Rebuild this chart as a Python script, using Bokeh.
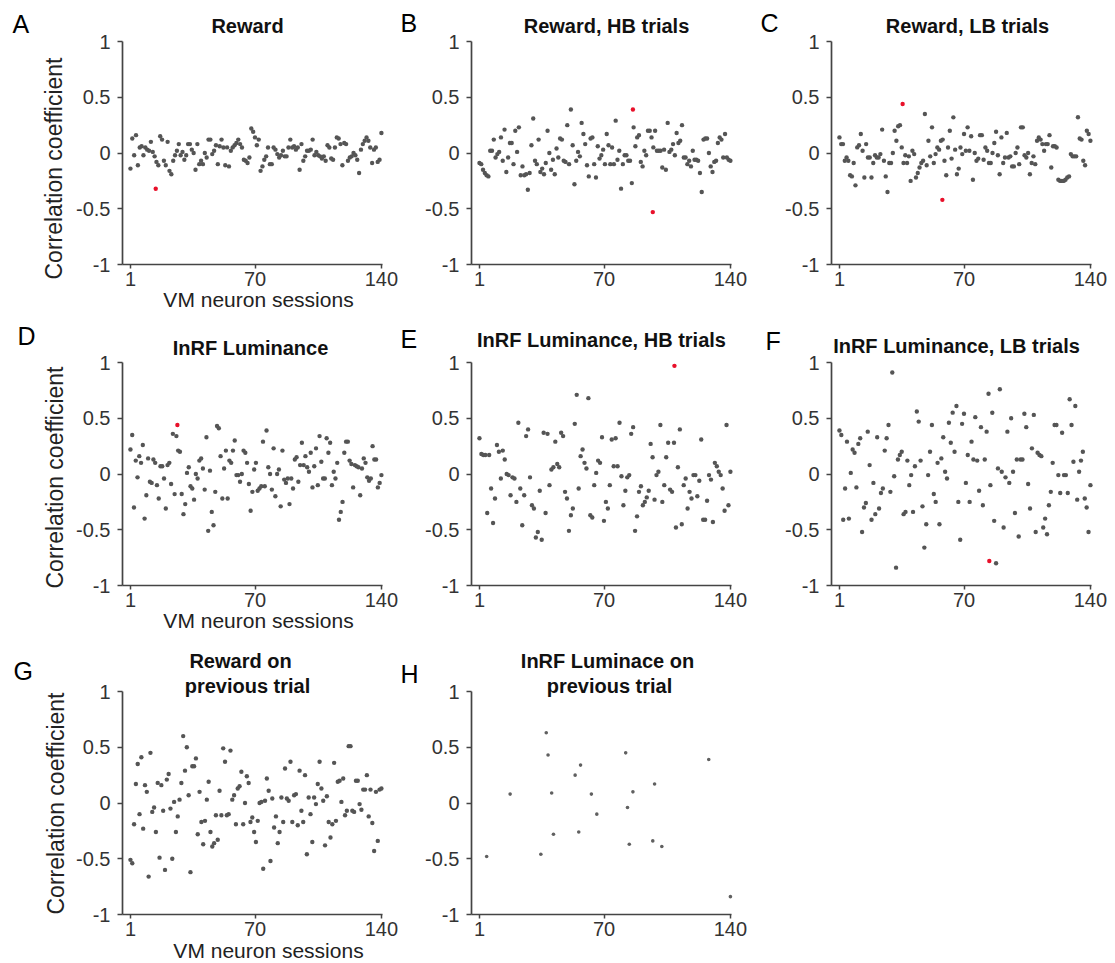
import math
import numpy as np
from bokeh.plotting import figure
from bokeh.layouts import column, row
from bokeh.models import Range1d, Label, FixedTicker, LinearAxis
from bokeh.embed import file_html
from bokeh.resources import INLINE

# ---------------- data ----------------
x_ticks = [1, 70, 140]
y_ticks = [-1, -0.5, 0, 0.5, 1]
y_tick_labels = {-1: "-1", -0.5: "-0.5", 0: "0", 0.5: "0.5", 1: "1"}
first_session = 1
last_session = 140
x_axis_label = "VM neuron sessions"
y_axis_label = "Correlation coefficient"

a_title = ["Reward"]
a_gray = [-0.14, 0.13, -0.02, 0.16, -0.11, 0.05, 0.06, -0.02, 0.05, 0.03,
          0.02, 0.10, 0.01, -0.03, -0.08, -0.11, 0.15, 0.12, -0.07, -0.11,
          0.10, -0.16, -0.19, -0.07, -0.02, 0.02, 0.08, -0.02, 0.01, -0.06,
          -0.02, 0.08, 0.08, 0.03, 0.00, -0.15, 0.08, -0.10, -0.07, -0.10,
          0.00, -0.04, 0.12, 0.12, -0.01, 0.02, 0.07, -0.10, 0.06, 0.12,
          0.05, -0.11, 0.05, -0.12, 0.02, 0.05, 0.07, 0.09, 0.12, 0.08,
          0.05, -0.06, -0.07, -0.09, -0.04, 0.22, 0.19, 0.14, 0.07, 0.12,
          -0.16, -0.12, -0.06, -0.03, 0.05, -0.10, -0.10, 0.05, 0.03, -0.01,
          -0.04, -0.02, 0.02, -0.03, -0.03, 0.05, 0.12, 0.05, 0.06, 0.03,
          0.05, -0.15, 0.08, -0.07, -0.03, 0.02, 0.02, 0.03, 0.12, -0.02,
          0.01, -0.02, -0.03, -0.05, -0.03, -0.07, 0.07, 0.05, -0.05, -0.06,
          0.05, 0.14, 0.13, 0.08, -0.11, 0.09, 0.08, -0.07, -0.04, -0.03,
          0.00, -0.02, -0.06, -0.18, 0.03, 0.08, 0.11, 0.14, 0.11, 0.05,
          -0.09, 0.03, 0.05, -0.08, -0.06, 0.18]
a_red_x = [15]
a_red_y = [-0.32]

b_title = ["Reward, HB trials"]
b_gray = [-0.09, -0.10, -0.15, -0.18, -0.20, -0.21, 0.02, 0.02, 0.12, -0.04,
          -0.01, 0.01, 0.14, -0.07, 0.21, -0.17, -0.04, 0.09, 0.09, -0.10,
          0.20, 0.01, 0.23, -0.20, -0.12, -0.20, -0.19, -0.33, -0.18, 0.07,
          0.31, -0.07, -0.10, 0.12, -0.17, -0.14, -0.19, -0.09, 0.20, 0.00,
          -0.15, -0.06, -0.19, 0.04, -0.04, 0.13, 0.12, -0.07, -0.08, 0.25,
          -0.10, 0.39, 0.07, -0.28, -0.07, 0.01, -0.03, 0.27, 0.17, 0.08,
          -0.11, -0.21, 0.13, 0.14, -0.10, -0.22, 0.06, -0.05, -0.02, 0.03,
          -0.10, 0.17, 0.07, -0.10, 0.05, -0.10, 0.29, -0.06, 0.02, -0.32,
          -0.10, -0.02, -0.02, -0.07, -0.07, -0.27, 0.23, 0.06, 0.14, 0.16,
          -0.08, -0.12, 0.02, -0.02, 0.20, 0.20, 0.14, 0.05, 0.20, 0.02,
          0.02, 0.02, -0.13, 0.03, -0.15, 0.27, 0.01, 0.03, 0.08, -0.02,
          0.18, 0.09, 0.11, 0.25, -0.04, -0.04, -0.10, -0.07, -0.12, 0.02,
          -0.06, -0.06, -0.07, -0.18, -0.35, 0.12, 0.13, 0.13, 0.00, -0.12,
          -0.17, -0.08, -0.07, 0.09, 0.14, 0.12, -0.04, 0.17, -0.04, -0.06,
          -0.07]
b_red_x = [86, 97]
b_red_y = [0.39, -0.53]

c_title = ["Reward, LB trials"]
c_gray = [0.14, 0.08, 0.08, -0.07, -0.04, -0.07, -0.20, -0.21, -0.09, -0.29,
          0.05, 0.07, 0.17, 0.02, -0.22, 0.08, -0.04, -0.04, -0.22, -0.09,
          -0.02, -0.04, -0.04, -0.01, 0.21, -0.07, -0.21, -0.35, -0.09, -0.09,
          0.00, 0.20, 0.11, 0.24, 0.25, 0.05, -0.09, -0.02, -0.09, -0.03,
          -0.25, 0.02, -0.01, -0.22, -0.18, -0.13, -0.09, -0.07, 0.35, -0.11,
          0.11, -0.03, 0.23, -0.09, -0.01, 0.05, 0.03, 0.11, 0.12, -0.07,
          -0.20, 0.05, 0.20, -0.05, 0.32, 0.03, -0.19, -0.14, 0.05, -0.01,
          0.17, 0.02, 0.23, 0.02, 0.15, -0.24, 0.00, -0.07, -0.05, 0.16,
          0.16, -0.06, 0.05, 0.02, -0.09, -0.09, 0.00, 0.09, 0.19, -0.02,
          -0.19, 0.14, -0.09, -0.04, 0.18, -0.04, -0.03, -0.12, -0.12, 0.00,
          0.05, -0.10, 0.23, 0.23, -0.02, -0.04, 0.00, -0.19, -0.09, -0.03,
          -0.10, 0.11, 0.14, 0.12, 0.08, 0.02, 0.08, 0.08, 0.16, -0.13,
          0.06, 0.06, 0.05, -0.24, -0.25, -0.25, -0.25, -0.24, -0.22, -0.21,
          -0.01, -0.03, -0.03, -0.03, 0.32, 0.13, 0.12, -0.07, -0.11, 0.20,
          0.17, 0.11]
c_red_x = [36, 58]
c_red_y = [0.44, -0.42]

d_title = ["InRF Luminance"]
d_gray = [0.22, 0.35, -0.30, 0.12, -0.03, 0.16, 0.10, 0.26, -0.40, -0.19,
          0.14, -0.07, -0.08, 0.13, 0.10, -0.10, -0.22, 0.07, 0.07, -0.04,
          -0.31, 0.08, 0.10, -0.09, 0.36, -0.18, 0.34, 0.21, 0.20, -0.18,
          -0.36, -0.27, 0.01, 0.06, -0.11, -0.13, -0.23, 0.00, -0.04, 0.12,
          0.14, 0.05, -0.14, 0.33, -0.51, 0.03, -0.34, -0.46, -0.16, 0.43,
          0.41, 0.16, -0.22, 0.05, 0.21, -0.22, 0.12, 0.10, 0.21, 0.30,
          -0.01, -0.01, -0.07, 0.00, 0.21, 0.19, 0.10, -0.09, -0.33, -0.16,
          0.04, 0.10, -0.15, -0.13, -0.11, 0.29, -0.11, 0.39, 0.06, 0.00,
          -0.14, 0.23, -0.20, 0.00, 0.04, -0.29, 0.21, -0.05, -0.08, -0.04,
          -0.27, -0.04, -0.13, 0.13, 0.15, -0.07, 0.08, 0.28, 0.08, 0.16,
          0.06, 0.02, 0.19, -0.12, 0.07, 0.23, -0.10, 0.34, 0.11, -0.04,
          -0.04, 0.32, 0.19, 0.28, -0.10, 0.02, -0.04, 0.10, -0.41, -0.34,
          -0.25, 0.19, 0.29, 0.29, 0.12, 0.09, -0.12, 0.08, 0.07, 0.06,
          -0.19, 0.05, 0.14, 0.10, -0.03, -0.06, -0.04, 0.25, 0.13, 0.13,
          -0.12, -0.08, -0.01]
d_red_x = [27]
d_red_y = [0.44]

e_title = ["InRF Luminance, HB trials"]
e_gray = [0.32, 0.18, 0.17, 0.17, -0.35, 0.17, -0.13, -0.44, -0.22, 0.26,
          0.20, -0.04, 0.21, 0.13, 0.00, -0.01, -0.19, -0.03, -0.04, -0.25,
          0.46, -0.13, -0.46, -0.19, 0.34, 0.40, -0.03, -0.28, -0.31, -0.57,
          -0.52, -0.15, -0.59, 0.37, -0.35, 0.36, -0.10, 0.04, 0.06, 0.29,
          0.09, 0.06, 0.37, 0.34, -0.16, -0.22, -0.51, -0.37, -0.31, 0.45,
          0.71, -0.13, 0.16, 0.22, 0.10, 0.05, 0.68, -0.37, -0.39, -0.10,
          0.01, 0.12, 0.10, 0.33, -0.42, -0.25, -0.31, -0.10, 0.31, 0.07,
          0.32, 0.07, 0.46, -0.02, -0.28, -0.15, -0.03, -0.01, 0.36, 0.42,
          -0.51, -0.38, -0.16, -0.11, -0.28, -0.25, -0.21, -0.15, 0.27, 0.15,
          -0.23, -0.01, 0.02, 0.44, -0.25, -0.10, 0.15, 0.28, -0.14, -0.16,
          0.28, -0.48, 0.06, 0.40, -0.45, -0.10, -0.04, -0.31, -0.16, -0.22,
          -0.01, -0.01, -0.20, -0.06, 0.31, -0.41, -0.41, -0.24, -0.01, -0.05,
          -0.43, 0.10, 0.07, 0.02, -0.01, -0.13, -0.33, 0.44, -0.28, 0.02]
e_red_x = [109]
e_red_y = [0.97]

f_title = ["InRF Luminance, LB trials"]
f_gray = [0.39, 0.35, -0.41, -0.13, 0.29, -0.40, 0.01, 0.22, 0.19, -0.12,
          0.27, 0.32, -0.52, -0.30, -0.26, 0.38, 0.08, -0.41, -0.08, -0.36,
          0.33, -0.31, -0.17, -0.13, 0.21, 0.32, 0.44, -0.16, 0.91, -0.02,
          -0.84, 0.13, 0.17, 0.20, -0.36, -0.34, 0.12, -0.10, -0.01, -0.34,
          0.07, 0.56, 0.47, 0.12, -0.29, -0.66, -0.45, -0.01, 0.20, 0.44,
          -0.18, -0.25, 0.10, -0.45, 0.14, 0.33, 0.02, -0.04, 0.46, 0.28,
          0.55, 0.20, 0.61, -0.25, -0.59, 0.45, 0.54, -0.08, 0.17, -0.25,
          0.29, 0.13, 0.51, 0.12, -0.15, 0.42, -0.28, 0.13, 0.38, 0.72,
          -0.10, 0.55, -0.42, -0.80, 0.05, 0.76, 0.02, -0.48, -0.03, 0.38,
          -0.08, 0.50, 0.02, -0.35, 0.13, -0.56, 0.13, 0.13, 0.54, 0.42,
          -0.09, -0.31, 0.23, 0.53, -0.52, 0.19, 0.17, 0.16, -0.48, -0.40,
          -0.54, -0.28, -0.16, 0.10, 0.44, 0.44, -0.01, -0.17, 0.37, -0.01,
          -0.01, -0.17, 0.67, 0.44, 0.11, 0.61, -0.23, 0.02, 0.12, 0.20,
          -0.22, -0.30, -0.52, -0.10]
f_red_x = [84]
f_red_y = [-0.78]

g_title = ["Reward on", "previous trial"]
g_gray = [-0.51, -0.54, -0.19, 0.17, 0.35, -0.10, 0.41, -0.23, 0.16, 0.10,
          -0.66, 0.45, -0.08, -0.04, -0.26, 0.18, -0.49, 0.16, -0.07, -0.60,
          0.21, 0.26, -0.05, -0.50, 0.01, -0.26, -0.12, 0.03, 0.18, 0.60,
          0.29, 0.50, 0.07, -0.62, 0.33, 0.33, 0.40, -0.28, 0.10, -0.17,
          -0.37, -0.16, 0.03, 0.19, -0.26, -0.39, -0.36, -0.11, -0.33, 0.11,
          -0.11, 0.49, 0.37, -0.11, -0.10, 0.47, 0.03, 0.07, -0.19, 0.13,
          0.15, 0.28, -0.19, 0.00, 0.24, 0.18, -0.17, -0.13, -0.26, -0.35,
          -0.16, 0.00, 0.01, -0.59, 0.02, 0.22, 0.11, -0.52, 0.04, -0.22,
          -0.12, -0.36, -0.26, 0.05, -0.17, 0.31, 0.04, 0.02, 0.37, -0.17,
          0.07, 0.08, -0.20, 0.29, -0.07, -0.17, 0.25, -0.46, 0.05, -0.10,
          -0.35, 0.05, -0.01, 0.17, 0.37, 0.13, 0.02, -0.38, 0.06, -0.17,
          -0.31, -0.19, 0.36, -0.16, 0.19, 0.20, 0.01, 0.22, -0.11, -0.07,
          0.51, 0.51, -0.07, -0.08, 0.20, 0.20, -0.01, -0.06, 0.12, 0.12,
          0.25, -0.12, 0.12, -0.18, -0.43, 0.10, -0.34, 0.12, 0.13]
g_red_x = []
g_red_y = []

h_title = ["InRF Luminace on", "previous trial"]
h_x = [5, 18, 35, 38, 39, 41, 42, 54, 56, 57, 63, 66, 82, 83, 84, 86, 97, 98, 102, 128, 140]
h_y = [-0.48, 0.08, -0.46, 0.63, 0.43, 0.09, -0.28, 0.25, -0.26, 0.34, 0.08, -0.10,
       0.45, -0.04, -0.37, 0.10, -0.34, 0.17, -0.39, 0.39, -0.84]

# ---------------- style / geometry ----------------
FONT = "Liberation Sans"
XS, XE = -3.4, 140.6          # x extent of each plotting box
FW, FH = 260, 223             # plotting box size in px
PX = FW / (XE - XS)
PY = FH / 2.0
AX_COLOR = "#444444"
DOT = "#555555"
RED = "#e8102a"
BASE_SHIFT = 0.38             # compensates the label baseline placement


def sessions_for(vals):
    return list(np.linspace(first_session, last_session, len(vals)))


def add_text(p, fl, ft, text, sx, sy, size, style="normal", align="left",
             baseline="alphabetic", color="#111111", angle=0.0):
    if baseline == "alphabetic":
        sy = sy - BASE_SHIFT * size
    p.add_layout(Label(x=XS + (sx - fl) / PX, y=1 + (ft - sy) / PY, text=text,
                       text_font=FONT, text_font_size=f"{size}px",
                       text_font_style=style, text_align=align,
                       text_baseline=baseline, text_color=color, angle=angle))


def panel(letter, title, gx, gy, rx, ry, ox, oy, W, H, fl_rel, ft_rel,
          title_pos, letter_pos, xlab=None, ylab=None,
          dot_size=4.4, dot_color=DOT):
    fl, ft = ox + fl_rel, oy + ft_rel
    x0 = XS - fl_rel / PX
    x1 = XS + (W - fl_rel) / PX
    y1 = 1 + ft_rel / PY
    y0 = 1 - (H - ft_rel) / PY
    p = figure(width=W, height=H, min_border=0, title=None,
               x_range=Range1d(x0, x1), y_range=Range1d(y0, y1),
               x_axis_type=None, y_axis_type=None,
               output_backend="svg", toolbar_location=None,
               background_fill_color="white", border_fill_color="white",
               outline_line_color=None)

    xa = LinearAxis(fixed_location=-1, bounds=(XS, XE),
                    ticker=FixedTicker(ticks=x_ticks))
    xa.major_tick_out = 4
    xa.major_tick_in = 0
    xa.major_label_standoff = 3
    ya = LinearAxis(fixed_location=XS, bounds=(-1, 1),
                    ticker=FixedTicker(ticks=y_ticks))
    ya.major_label_overrides = y_tick_labels
    ya.major_tick_out = 5
    ya.major_tick_in = 0
    ya.major_label_standoff = 7
    for ax in (xa, ya):
        ax.minor_tick_line_color = None
        ax.axis_line_color = AX_COLOR
        ax.axis_line_width = 1.7
        ax.major_tick_line_color = AX_COLOR
        ax.major_tick_line_width = 1.5
        ax.major_label_text_font = FONT
        ax.major_label_text_font_size = "20px"
        ax.major_label_text_color = "#333333"
    p.add_layout(xa, "below")
    p.add_layout(ya, "left")

    p.scatter(gx, gy, size=dot_size, color=dot_color, line_color=None)
    if len(rx):
        p.scatter(rx, ry, size=dot_size, color=RED, line_color=None)

    add_text(p, fl, ft, letter, letter_pos[0], letter_pos[1], 25, color="#000000")
    for (cx, by), line in zip(title_pos, title):
        add_text(p, fl, ft, line, cx, by, 20, style="bold", align="center",
                 color="#111111")
    if xlab is not None:
        add_text(p, fl, ft, x_axis_label, xlab[0], xlab[1], 21, align="center",
                 color="#222222")
    if ylab is not None:
        add_text(p, fl, ft, y_axis_label, ylab[0], ylab[1], 23, align="center",
                 baseline="middle", color="#222222", angle=math.pi / 2)
    return p


R1, R2, R3 = 314, 326, 323
C1, C2, C3 = 400, 360, 355

pa = panel("A", a_title, sessions_for(a_gray), a_gray, a_red_x, a_red_y,
           0, 0, C1, R1, 122, 41, [(247, 33)], (12, 33),
           xlab=(258, 307), ylab=(53, 168))
pb = panel("B", b_title, sessions_for(b_gray), b_gray, b_red_x, b_red_y,
           400, 0, C2, R1, 71, 41, [(606, 33)], (400, 32))
pc = panel("C", c_title, sessions_for(c_gray), c_gray, c_red_x, c_red_y,
           760, 0, C3, R1, 71, 41, [(967, 33)], (760, 32))

pd = panel("D", d_title, sessions_for(d_gray), d_gray, d_red_x, d_red_y,
           0, R1, C1, R2, 122, 48, [(250, 355)], (17, 345),
           xlab=(258, 628), ylab=(54, 477))
pe = panel("E", e_title, sessions_for(e_gray), e_gray, e_red_x, e_red_y,
           400, R1, C2, R2, 71, 48, [(601, 347)], (400, 348))
pf = panel("F", f_title, sessions_for(f_gray), f_gray, f_red_x, f_red_y,
           760, R1, C3, R2, 71, 48, [(956, 353)], (765, 350))

pg = panel("G", g_title, sessions_for(g_gray), g_gray, g_red_x, g_red_y,
           0, R1 + R2, C1, R3, 122, 51, [(240, 668), (247, 693)], (13, 680),
           xlab=(268, 958), ylab=(55, 803))
ph = panel("H", h_title, h_x, h_y, [], [],
           400, R1 + R2, C2, R3, 71, 51, [(607, 668), (609, 693)], (400, 683),
           dot_size=3.6, dot_color="#606060")

layout = column(row(pa, pb, pc), row(pd, pe, pf), row(pg, ph))

open("out.html", "w").write(file_html(layout, INLINE))
